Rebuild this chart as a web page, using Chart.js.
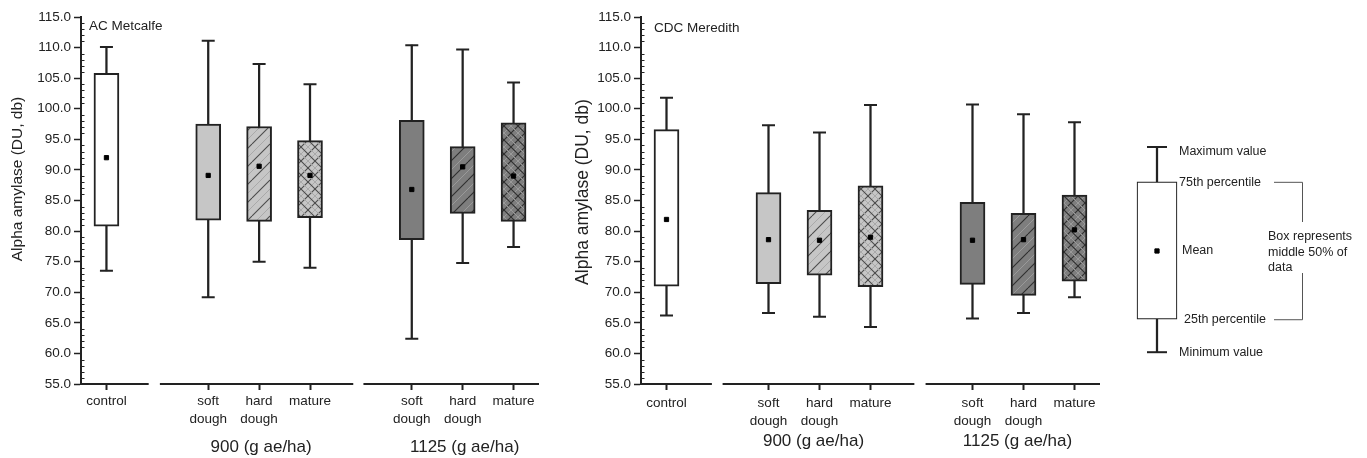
<!DOCTYPE html>
<html lang="en">
<head>
    <meta charset="UTF-8">
    <title>Alpha amylase box plots</title>
    <script src="https://cdn.jsdelivr.net/npm/chart.js"></script>
    <style>
        body {
            margin: 0;
            background: #fff;
            width: 1367px;
            height: 458px;
            position: relative;
            overflow: hidden;
        }
        canvas {
            position: absolute;
            top: 0;
        }
        #metcalfe { left: 0; }
        #meredith { left: 560px; }
        #key { left: 1110px; }
    </style>
</head>
<body>

    <canvas id="metcalfe" width="555" height="458"></canvas>
    <canvas id="meredith" width="555" height="458"></canvas>
    <canvas id="key" width="257" height="458"></canvas>

    <script>
        // categories on the x axis ('' = gap between groups)
        const categories = ['control', '', ['soft', 'dough'], ['hard', 'dough'], 'mature', '', ['soft', 'dough'], ['hard', 'dough'], 'mature'];
        const groupLabels = ['900 (g ae/ha)', '1125 (g ae/ha)'];
        const groupAt = [3, 7];
        const yMin = 55, yMax = 115, yStep = 5;

        // AC Metcalfe
        const metMin  = [73.5, null, 69.2, 75.0, 74.0, null, 62.4, 74.8, 77.4];
        const metQ1   = [80.8, null, 81.8, 81.6, 82.2, null, 78.6, 82.9, 81.6];
        const metMean = [92.0, null, 89.1, 90.6, 89.1, null, 86.8, 90.5, 89.0];
        const metQ3   = [105.8, null, 97.5, 97.1, 94.8, null, 98.1, 93.8, 97.7];
        const metMax  = [110.1, null, 111.1, 107.3, 104.0, null, 110.4, 109.7, 104.3];

        // CDC Meredith
        const merMin  = [66.2, null, 66.6, 66.0, 64.3, null, 65.7, 66.6, 69.2];
        const merQ1   = [71.0, null, 71.4, 72.8, 70.9, null, 71.3, 69.5, 71.8];
        const merMean = [81.9, null, 78.6, 78.5, 79.0, null, 78.5, 78.6, 80.2];
        const merQ3   = [96.6, null, 86.3, 83.4, 87.4, null, 84.7, 82.9, 85.9];
        const merMax  = [101.8, null, 97.3, 96.1, 100.6, null, 100.7, 99.1, 97.8];

        // key diagram (schematic box)
        const keyMin = [23.1], keyQ1 = [30.3], keyMean = [45.2], keyQ3 = [60.3], keyMax = [67.9];
        const keyLabels = ['Minimum value', '25th percentile', 'Mean', '75th percentile', 'Maximum value'];
        const keyNote = ['Box represents', 'middle 50% of', 'data'];

        Chart.defaults.font.family = "'Liberation Sans', Arial, sans-serif";
        Chart.defaults.color = '#222';
        Chart.defaults.animation = false;

        const ink = '#222';

        // hatch fills
        function hatch(base, dark, light, cross) {
            const s = cross ? 14 : 18;
            const c = document.createElement('canvas');
            c.width = s; c.height = s;
            const g = c.getContext('2d');
            g.fillStyle = base;
            g.fillRect(0, 0, s, s);
            function diag(off, col, w, back) {
                g.strokeStyle = col; g.lineWidth = w;
                for (let k = -1; k <= 1; k++) {
                    g.beginPath();
                    if (back) { g.moveTo(k * s + off - s, 0); g.lineTo(k * s + off, s); }
                    else { g.moveTo(k * s + off, s); g.lineTo(k * s + off + s, 0); }
                    g.stroke();
                }
            }
            diag(s / 2, light, 1, false);
            diag(0, dark, 1.1, false);
            if (cross) {
                diag(s / 2, light, 1, true);
                diag(0, dark, 1.1, true);
            }
            return document.createElement('canvas').getContext('2d').createPattern(c, 'repeat');
        }

        const lightGrey = '#c6c6c6', darkGrey = '#7e7e7e';
        const fills = ['#ffffff', null, lightGrey,
            hatch(lightGrey, '#4a4a4a', '#a9a9a9', false),
            hatch(lightGrey, '#4a4a4a', '#a9a9a9', true),
            null, darkGrey,
            hatch(darkGrey, '#2e2e2e', '#9a9a9a', false),
            hatch(darkGrey, '#2e2e2e', '#9a9a9a', true)];

        function boxDatasets(mn, q1, mean, q3, mx, fill, boxW, boxBorder, capR) {
            return [
                {
                    type: 'bar', order: 4, grouped: false,
                    data: mn.map((v, i) => v === null ? null : [v, mx[i]]),
                    backgroundColor: ink, borderWidth: 0, barThickness: 1.6
                },
                {
                    type: 'bar', order: 3, grouped: false,
                    data: q1.map((v, i) => v === null ? null : [v, q3[i]]),
                    backgroundColor: fill, borderColor: ink, borderWidth: boxBorder,
                    borderSkipped: false, barThickness: boxW
                },
                {
                    type: 'line', order: 2, showLine: false, data: mx,
                    pointStyle: 'line', pointRadius: capR, pointBorderWidth: 2, pointBorderColor: ink
                },
                {
                    type: 'line', order: 2, showLine: false, data: mn,
                    pointStyle: 'line', pointRadius: capR, pointBorderWidth: 2, pointBorderColor: ink
                },
                {
                    type: 'line', order: 1, showLine: false, data: mean,
                    pointStyle: 'rect', pointRadius: 3, pointBorderWidth: 1,
                    pointBackgroundColor: '#000', pointBorderColor: '#000'
                }
            ];
        }

        // axis break, minor ticks, titles and group labels
        const decor = {
            id: 'decor',
            afterDraw(chart, args, o) {
                if (!o.segments) return;
                const { ctx, chartArea: a, scales: { x, y } } = chart;
                ctx.save();
                ctx.strokeStyle = ink;
                ctx.lineWidth = 2;
                o.segments.forEach(([s, e]) => {
                    ctx.beginPath();
                    ctx.moveTo(x.getPixelForValue(s), a.bottom);
                    ctx.lineTo(x.getPixelForValue(e), a.bottom);
                    ctx.stroke();
                });
                ctx.lineWidth = 1;
                for (let v = yMin + 1; v < yMax; v++) {
                    if (v % yStep === 0) continue;
                    const py = Math.round(y.getPixelForValue(v)) + 0.5;
                    ctx.beginPath();
                    ctx.moveTo(a.left, py);
                    ctx.lineTo(a.left + 3.5, py);
                    ctx.stroke();
                }
                ctx.fillStyle = ink;
                ctx.textAlign = 'left';
                ctx.textBaseline = 'middle';
                ctx.font = "13.5px 'Liberation Sans', Arial, sans-serif";
                ctx.fillText(o.name, a.left + o.nameDx, o.nameY);

                ctx.textAlign = 'center';
                ctx.font = "17px 'Liberation Sans', Arial, sans-serif";
                groupLabels.forEach((t, i) => ctx.fillText(t, x.getPixelForValue(groupAt[i]) + o.groupDx, o.groupY));

                ctx.translate(o.titleX, o.titleY);
                ctx.rotate(-Math.PI / 2);
                ctx.font = o.titleSize + "px 'Liberation Sans', Arial, sans-serif";
                ctx.fillText('Alpha amylase (DU, db)', 0, 0);
                ctx.restore();
            }
        };

        function boxChart(id, mn, q1, mean, q3, mx, padRight, deco) {
            new Chart(document.getElementById(id), {
                data: {
                    labels: categories,
                    datasets: boxDatasets(mn, q1, mean, q3, mx, fills, 25, 2, 6.5)
                },
                options: {
                    responsive: false,
                    layout: { padding: { left: 0, right: padRight, top: 17, bottom: 0 } },
                    scales: {
                        x: {
                            type: 'category',
                            offset: true,
                            afterFit: s => { s.height = 74; },
                            border: { display: false },
                            grid: {
                                offset: false,
                                drawOnChartArea: false,
                                tickLength: 6,
                                tickWidth: 2,
                                tickColor: c => categories[c.index] === '' ? 'rgba(0,0,0,0)' : ink
                            },
                            ticks: {
                                autoSkip: false, maxRotation: 0, padding: deco.tickPad, color: ink,
                                font: { size: 13.5, lineHeight: 1.3 }
                            }
                        },
                        y: {
                            min: yMin, max: yMax,
                            afterFit: s => { s.width = 81; },
                            border: { color: ink, width: 2 },
                            grid: { drawOnChartArea: false, tickLength: 7, tickWidth: 1.5, tickColor: ink },
                            ticks: {
                                stepSize: yStep, padding: 3, color: ink,
                                font: { size: 13.5 },
                                callback: v => Number(v).toFixed(1)
                            }
                        }
                    },
                    plugins: {
                        legend: { display: false },
                        tooltip: { enabled: false },
                        decor: deco
                    }
                },
                plugins: [decor]
            });
        }

        boxChart('metcalfe', metMin, metQ1, metMean, metQ3, metMax, 16, {
            name: 'AC Metcalfe', nameDx: 8, nameY: 26, tickPad: 3,
            segments: [[-0.5, 0.83], [1.05, 4.85], [5.05, 8.5]],
            groupY: 447, groupDx: 2,
            titleX: 18, titleY: 179, titleSize: 15.5
        });

        boxChart('meredith', merMin, merQ1, merMean, merQ3, merMax, 15, {
            name: 'CDC Meredith', nameDx: 13, nameY: 28, tickPad: 5,
            segments: [[-0.5, 0.89], [1.1, 4.86], [5.08, 8.5]],
            groupY: 441, groupDx: -6,
            titleX: 23, titleY: 192, titleSize: 17.5
        });

        // key diagram
        const keyText = {
            id: 'keyText',
            afterDraw(chart) {
                const { ctx, scales: { y } } = chart;
                const vals = [keyMin[0], keyQ1[0], keyMean[0], keyQ3[0], keyMax[0]];
                const dx = [69, 74, 72, 69, 69];
                const dy = [0, 0, 0, 1, 5];
                ctx.save();
                ctx.fillStyle = ink;
                ctx.font = "12.5px 'Liberation Sans', Arial, sans-serif";
                ctx.textBaseline = 'middle';
                ctx.textAlign = 'left';
                keyLabels.forEach((t, i) => ctx.fillText(t, dx[i], y.getPixelForValue(vals[i]) + dy[i]));
                keyNote.forEach((t, i) => ctx.fillText(t, 158, 237 + i * 15.5));

                const top = y.getPixelForValue(keyQ3[0]), bot = y.getPixelForValue(keyQ1[0]);
                ctx.strokeStyle = '#555';
                ctx.lineWidth = 1;
                ctx.beginPath();
                ctx.moveTo(164, top + 0.5); ctx.lineTo(192.5, top + 0.5); ctx.lineTo(192.5, 222);
                ctx.moveTo(192.5, 273); ctx.lineTo(192.5, bot + 0.5); ctx.lineTo(164, bot + 0.5);
                ctx.stroke();
                ctx.restore();
            }
        };

        new Chart(document.getElementById('key'), {
            data: {
                labels: ['key'],
                datasets: boxDatasets(keyMin, keyQ1, keyMean, keyQ3, keyMax, ['#ffffff'], 40, 1.2, 10)
            },
            options: {
                responsive: false,
                layout: { autoPadding: false, padding: { left: 0, right: 163, top: 0, bottom: 0 } },
                scales: {
                    x: { type: 'category', display: false, offset: true },
                    y: { display: false, min: 0, max: 100 }
                },
                plugins: { legend: { display: false }, tooltip: { enabled: false } }
            },
            plugins: [keyText]
        });
    </script>

</body>
</html>
